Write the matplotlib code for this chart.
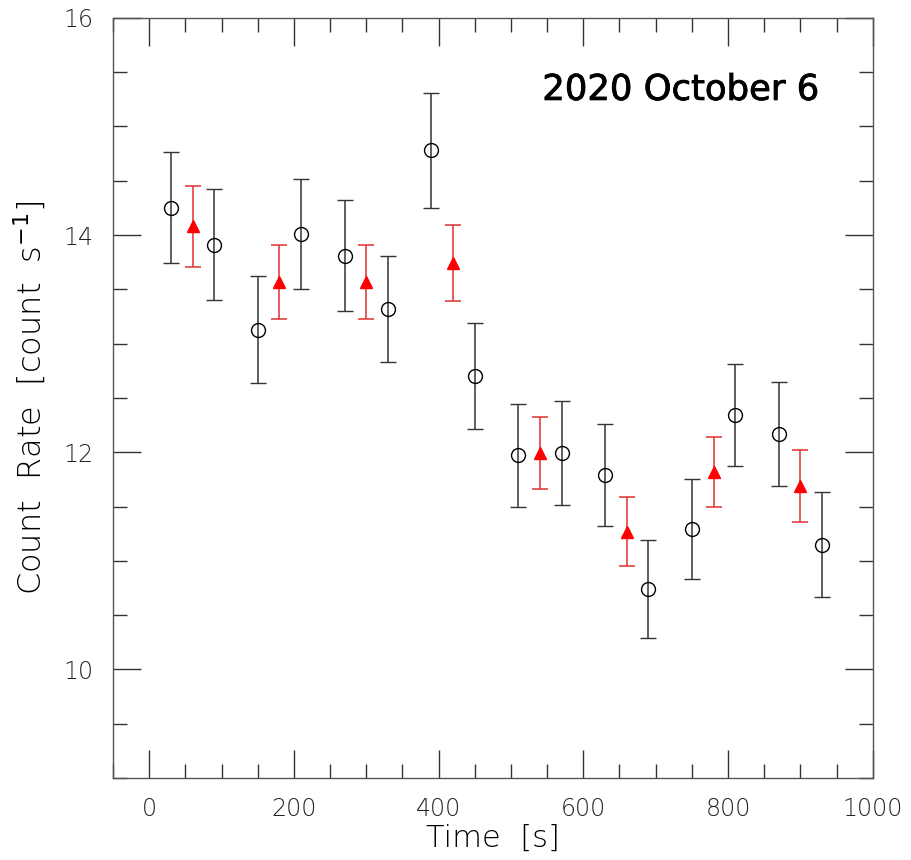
import numpy as np
import matplotlib.pyplot as plt
import matplotlib.patheffects as pe
from matplotlib.ticker import MultipleLocator

# Kontinuum (crni krugovi)
t_blk = [30, 90, 150, 210, 270, 330, 390, 450, 510, 570, 630, 690, 750, 810, 870, 930]
r_blk = [14.25, 13.91, 13.13, 14.01, 13.81, 13.32, 14.78, 12.70,
         11.97, 11.99, 11.79, 10.74, 11.29, 12.34, 12.17, 11.15]
e_blk = [0.51, 0.51, 0.49, 0.51, 0.51, 0.49, 0.53, 0.49,
         0.47, 0.48, 0.47, 0.45, 0.46, 0.47, 0.48, 0.48]

# Crveni trouglovi
t_red = [60, 180, 300, 420, 540, 660, 780, 900]
r_red = [14.08, 13.57, 13.57, 13.74, 11.99, 11.27, 11.82, 11.69]
e_red = [0.37, 0.34, 0.34, 0.35, 0.33, 0.32, 0.32, 0.33]

fig = plt.figure(figsize=(9.11, 8.6), dpi=100)
ax = fig.add_axes([0.124, 0.0953, 0.834, 0.884])

ax.errorbar(t_blk, r_blk, yerr=e_blk, fmt='o', mfc='none', mec='black', ms=10,
            mew=1.0, ecolor='#333333', elinewidth=1.1, capsize=5.5, capthick=1.1)
ax.errorbar(t_red, r_red, yerr=e_red, fmt='^', mfc='red', mec='red', ms=8,
            ecolor='#e03030', elinewidth=1.1, capsize=5.5, capthick=1.1)

ax.set_xlim(-50, 1000)
ax.set_ylim(9, 16)
ax.xaxis.set_major_locator(MultipleLocator(200))
ax.xaxis.set_minor_locator(MultipleLocator(50))
ax.yaxis.set_major_locator(MultipleLocator(2))
ax.yaxis.set_minor_locator(MultipleLocator(0.5))
ax.tick_params(which='both', direction='in', top=True, right=True, color='#333333')
ax.tick_params(which='major', length=20, width=1, pad=14, labelsize=17, labelcolor='#222222')
ax.tick_params(which='minor', length=10, width=1)
for s in ax.spines.values():
    s.set_color('#555555')
    s.set_linewidth(1)
for lab in ax.get_xticklabels() + ax.get_yticklabels():
    lab.set_fontweight('light')

ax.set_xlabel('Time  [s]', fontsize=22, fontweight='light', labelpad=2)
ax.set_ylabel(r'Count  Rate  [count  s$^{-1}$]', fontsize=23, fontweight='light', labelpad=11)

ax.text(0.93, 0.892, '2020 October 6', transform=ax.transAxes, ha='right', va='baseline',
        fontsize=25.5, path_effects=[pe.withStroke(linewidth=0.6, foreground='black')])

fig.savefig('out.png', dpi=100)
